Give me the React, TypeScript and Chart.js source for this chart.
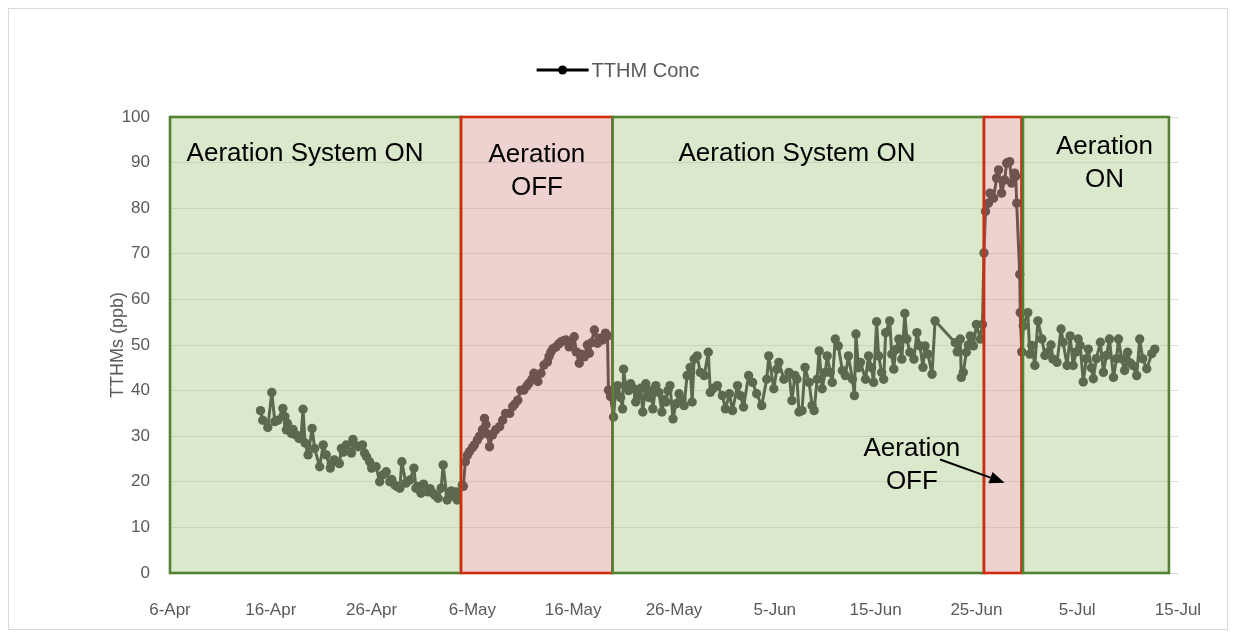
import React, { useEffect, useRef } from "react";
import { Chart, registerables } from "chart.js";

Chart.register(...registerables);

// x values are days after 6-Apr
const xTickLabels = ["6-Apr", "16-Apr", "26-Apr", "6-May", "16-May", "26-May", "5-Jun", "15-Jun", "25-Jun", "5-Jul", "15-Jul"];

const aprilDays = [8.98, 9.2, 9.7, 10.1, 10.4, 10.7, 11.2, 11.4, 11.55, 11.65, 12.05, 12.2, 12.5, 12.8, 13.0, 13.2, 13.4, 13.7, 14.1, 14.35, 14.85, 15.2, 15.5, 15.9, 16.0, 16.3, 16.8, 17.0, 17.2, 17.5, 18.0, 18.15, 18.4, 18.65, 19.1, 19.3, 19.5, 19.8, 20.0, 20.45, 20.8, 21.1, 21.45, 21.8, 22.0, 22.3, 22.5, 22.8, 23.0, 23.4, 23.8, 24.2, 24.4, 24.6, 24.9, 25.15, 25.6, 25.8, 26.1, 26.3, 26.6, 26.9, 27.1, 27.5, 27.7, 27.9, 28.2, 28.4, 28.5];
const aprilVals = [35.6, 33.5, 31.9, 39.6, 33.2, 33.5, 36.1, 34.3, 31.4, 32.8, 30.6, 31.5, 30.3, 29.5, 30.0, 35.9, 28.5, 25.9, 31.7, 27.3, 23.3, 28.1, 25.9, 23.0, 24.0, 24.8, 24.0, 27.3, 26.5, 28.1, 26.3, 29.3, 28.0, 27.7, 28.1, 26.3, 25.5, 24.4, 23.0, 23.3, 20.0, 21.5, 22.2, 20.0, 20.5, 19.3, 19.0, 18.6, 24.4, 19.7, 20.4, 23.0, 18.6, 19.0, 17.5, 19.5, 17.8, 18.5, 17.5, 17.0, 16.4, 18.6, 23.7, 16.0, 17.2, 18.0, 16.8, 17.8, 16.0];

const mayOffDays = [29.0, 29.1, 29.3, 29.5, 29.7, 30.0, 30.2, 30.5, 30.7, 31.0, 31.2, 31.35, 31.5, 31.7, 32.0, 32.3, 32.7, 33.0, 33.3, 33.7, 34.0, 34.2, 34.5, 34.8, 35.1, 35.4, 35.6, 35.9, 36.1, 36.3, 36.5, 36.8, 37.1, 37.45, 37.6, 37.8, 38.0, 38.3, 38.6, 38.8, 39.1, 39.3, 39.6, 39.8, 40.1, 40.3, 40.6, 40.8, 41.1, 41.4, 41.6, 41.8, 42.1, 42.4, 42.6, 42.9, 43.2, 43.4, 43.5, 43.7];
const mayOffVals = [19.3, 19.0, 24.4, 25.8, 26.6, 27.5, 28.1, 29.2, 30.0, 31.4, 33.9, 32.5, 30.5, 27.7, 30.3, 31.4, 32.1, 33.5, 35.0, 35.0, 36.5, 37.0, 37.9, 40.1, 40.1, 41.0, 41.6, 42.5, 43.8, 43.0, 42.0, 43.8, 45.6, 46.3, 47.5, 48.5, 49.2, 49.6, 50.3, 50.7, 51.0, 51.1, 49.6, 50.5, 51.8, 48.5, 46.0, 48.0, 47.4, 50.0, 48.2, 50.5, 53.3, 50.4, 51.5, 51.1, 52.6, 52.0, 40.1, 38.7];

const juneOnDays = [44.0, 44.2, 44.4, 44.7, 44.9, 45.0, 45.2, 45.5, 45.7, 46.0, 46.2, 46.4, 46.7, 46.9, 47.2, 47.5, 47.7, 47.9, 48.2, 48.5, 48.8, 49.0, 49.2, 49.4, 49.6, 49.9, 50.2, 50.5, 50.8, 51.0, 51.3, 51.6, 51.8, 52.0, 52.3, 52.6, 53.0, 53.4, 53.6, 53.9, 54.3, 54.8, 55.1, 55.5, 55.8, 56.3, 56.6, 56.9, 57.4, 57.8, 58.2, 58.7, 59.2, 59.4, 59.9, 60.2, 60.4, 60.9, 61.4, 61.7, 62.0, 62.2, 62.4, 62.7, 63.0, 63.4, 63.7, 63.9, 64.2, 64.4, 64.7, 65.0, 65.2, 65.5, 65.7, 66.0, 66.3, 66.7, 67.0, 67.3, 67.7, 67.9, 68.05, 68.3, 68.5, 69.0, 69.3, 69.6, 69.8, 70.1, 70.3, 70.6, 70.8, 71.0, 71.4, 71.6, 71.8, 72.0, 72.3, 72.6, 72.9, 73.1, 73.4, 73.8, 74.1, 74.4, 74.7, 74.9, 75.2, 75.6, 75.9, 77.9, 78.1, 78.4, 78.5, 78.7, 79.0, 79.2, 79.4, 79.7, 80.0, 80.4, 80.6];
const juneOnVals = [34.2, 40.0, 41.1, 38.5, 36.0, 44.7, 41.1, 40.0, 41.5, 40.4, 37.5, 38.9, 40.5, 35.3, 41.5, 38.5, 40.0, 36.0, 41.1, 39.6, 35.3, 38.0, 37.5, 40.0, 41.1, 33.8, 37.1, 39.3, 38.0, 36.7, 43.3, 45.1, 37.5, 46.9, 47.6, 44.0, 43.3, 48.4, 39.6, 40.5, 41.1, 38.9, 36.0, 39.3, 35.6, 41.1, 38.9, 36.4, 43.3, 41.8, 39.3, 36.7, 42.5, 47.6, 40.4, 44.7, 46.2, 42.5, 44.0, 37.8, 43.3, 42.5, 35.3, 35.6, 45.1, 41.8, 36.7, 35.6, 42.5, 48.7, 40.4, 44.0, 47.6, 44.0, 41.8, 51.3, 49.8, 44.4, 43.3, 47.6, 42.5, 38.9, 52.4, 45.0, 46.2, 42.5, 47.6, 45.0, 41.8, 55.1, 47.6, 44.0, 42.5, 52.7, 55.3, 48.0, 44.7, 49.0, 51.3, 46.9, 56.9, 51.3, 48.4, 46.9, 52.7, 49.8, 45.1, 49.8, 48.0, 43.6, 55.3, 50.5, 48.5, 51.3, 42.9, 44.0, 48.4, 50.0, 52.0, 49.8, 54.5, 51.3, 54.5];

const lateJuneOffDays = [80.75, 80.9, 81.2, 81.35, 81.7, 82.0, 82.2, 82.5, 82.8, 83.0, 83.3, 83.5, 83.8, 83.9, 84.0, 84.3];
const lateJuneOffVals = [70.2, 79.3, 81.1, 83.3, 82.2, 86.6, 88.4, 83.3, 86.2, 89.9, 90.2, 85.5, 87.7, 87.0, 81.1, 65.5];

const julyOnDays = [84.35, 84.5, 84.65, 85.1, 85.3, 85.5, 85.8, 86.1, 86.5, 86.8, 87.1, 87.4, 87.6, 88.0, 88.4, 88.6, 89.0, 89.3, 89.6, 89.9, 90.1, 90.3, 90.6, 90.9, 91.1, 91.4, 91.6, 91.9, 92.3, 92.6, 92.9, 93.2, 93.6, 93.9, 94.1, 94.4, 94.7, 95.0, 95.3, 95.5, 95.9, 96.2, 96.5, 96.9, 97.4, 97.7];
const julyOnVals = [57.1, 48.5, 54.2, 57.1, 48.0, 49.9, 45.5, 55.3, 51.3, 47.7, 48.4, 50.0, 46.9, 46.2, 53.5, 50.6, 45.5, 52.0, 45.5, 48.5, 51.3, 49.9, 41.9, 47.0, 49.1, 45.0, 42.6, 47.0, 50.6, 44.0, 47.7, 51.3, 42.9, 47.0, 51.3, 47.0, 44.4, 48.4, 46.0, 45.5, 43.3, 51.3, 47.0, 44.8, 48.1, 49.1];

// Aeration periods (days after 6-Apr)
const periodStart = [0, 28.87, 43.9, 80.75, 84.62];
const periodEnd = [28.87, 43.9, 80.75, 84.47, 99.1];
const periodAerationOn = [true, false, true, false, true];

// Period notes (centre day, first line value)
const noteLines = [["Aeration System ON"], ["Aeration", "OFF"], ["Aeration System ON"], ["Aeration", "ON"], ["Aeration", "OFF"]];
const noteDay = [13.4, 36.4, 62.2, 92.7, 73.6];
const noteValue = [91.9, 91.6, 91.9, 93.4, 27.3];
const arrowFrom = [76.4, 24.9];
const arrowTo = [82.8, 19.8];

const allDays = [...aprilDays, ...mayOffDays, ...juneOnDays, ...lateJuneOffDays, ...julyOnDays];
const allVals = [...aprilVals, ...mayOffVals, ...juneOnVals, ...lateJuneOffVals, ...julyOnVals];

const FONT = "'Liberation Sans', Arial, sans-serif";

const overlayPlugin = {
  id: "aerationOverlay",
  afterDatasetsDraw(chart: any) {
    const { ctx, scales } = chart;
    const xs = scales.x;
    const ys = scales.y;
    ctx.save();
    const yTop = ys.getPixelForValue(100);
    const yBot = ys.getPixelForValue(0);
    for (let i = 0; i < periodStart.length; i++) {
      const x0 = xs.getPixelForValue(periodStart[i]);
      const x1 = xs.getPixelForValue(periodEnd[i]);
      const on = periodAerationOn[i];
      ctx.fillStyle = on ? "rgba(181,209,153,0.5)" : "rgba(221,165,161,0.5)";
      ctx.fillRect(x0, yTop, x1 - x0, yBot - yTop);
      ctx.lineWidth = 2.6;
      ctx.strokeStyle = on ? "#548235" : "#d42a10";
      ctx.strokeRect(x0, yTop, x1 - x0, yBot - yTop);
    }
    ctx.fillStyle = "#000";
    ctx.font = `26px ${FONT}`;
    ctx.textAlign = "center";
    ctx.textBaseline = "middle";
    for (let i = 0; i < noteLines.length; i++) {
      const cx = xs.getPixelForValue(noteDay[i]);
      const cy = ys.getPixelForValue(noteValue[i]);
      noteLines[i].forEach((t, j) => ctx.fillText(t, cx, cy + j * 33));
    }
    // arrow
    const ax0 = xs.getPixelForValue(arrowFrom[0]);
    const ay0 = ys.getPixelForValue(arrowFrom[1]);
    const ax1 = xs.getPixelForValue(arrowTo[0]);
    const ay1 = ys.getPixelForValue(arrowTo[1]);
    const ang = Math.atan2(ay1 - ay0, ax1 - ax0);
    const headL = 15;
    const headW = 6;
    ctx.strokeStyle = "#000";
    ctx.lineWidth = 2;
    ctx.beginPath();
    ctx.moveTo(ax0, ay0);
    ctx.lineTo(ax1 - Math.cos(ang) * headL, ay1 - Math.sin(ang) * headL);
    ctx.stroke();
    ctx.beginPath();
    ctx.moveTo(ax1, ay1);
    const bx = ax1 - Math.cos(ang) * headL;
    const by = ay1 - Math.sin(ang) * headL;
    ctx.lineTo(bx + Math.sin(ang) * headW, by - Math.cos(ang) * headW);
    ctx.lineTo(bx - Math.sin(ang) * headW, by + Math.cos(ang) * headW);
    ctx.closePath();
    ctx.fill();
    ctx.restore();
  },
  afterDraw(chart: any) {
    const { ctx } = chart;
    ctx.save();
    const label = chart.data.datasets[0].label;
    ctx.font = `20px ${FONT}`;
    const tw = ctx.measureText(label).width;
    const lineW = 52;
    const gap = 3;
    const total = lineW + gap + tw;
    const x0 = chart.width / 2 - total / 2;
    const y = 61;
    ctx.strokeStyle = "#000";
    ctx.lineWidth = 3;
    ctx.beginPath();
    ctx.moveTo(x0, y);
    ctx.lineTo(x0 + lineW, y);
    ctx.stroke();
    ctx.fillStyle = "#000";
    ctx.beginPath();
    ctx.arc(x0 + lineW / 2, y, 4.5, 0, Math.PI * 2);
    ctx.fill();
    ctx.fillStyle = "#595959";
    ctx.textAlign = "left";
    ctx.textBaseline = "middle";
    ctx.fillText(label, x0 + lineW + gap, y + 1);
    ctx.restore();
  },
};

export default function App() {
  const ref = useRef<HTMLCanvasElement | null>(null);
  useEffect(() => {
    if (!ref.current) return;
    const points = allDays.map((d, i) => ({ x: d, y: allVals[i] }));
    const chart = new Chart(ref.current, {
      type: "line",
      data: {
        datasets: [
          {
            label: "TTHM Conc",
            data: points,
            borderColor: "#000",
            backgroundColor: "#000",
            borderWidth: 3,
            borderJoinStyle: "round",
            borderCapStyle: "round",
            pointRadius: 4.7,
            pointBorderWidth: 0,
            pointBackgroundColor: "#000",
            tension: 0,
          },
        ],
      },
      options: {
        animation: false,
        responsive: false,
        events: [],
        layout: { padding: { top: 108, right: 49, bottom: 0, left: 0 } },
        plugins: { legend: { display: false }, tooltip: { enabled: false } },
        scales: {
          x: {
            type: "linear",
            min: 0,
            max: 100,
            afterFit: (s: any) => {
              s.height = 56;
            },
            ticks: {
              stepSize: 10,
              autoSkip: false,
              maxRotation: 0,
              padding: 19,
              color: "#595959",
              font: { family: FONT, size: 17 },
              callback: (v: any) => xTickLabels[Math.round(Number(v) / 10)] ?? "",
            },
            grid: { display: false },
            border: { display: false },
          },
          y: {
            min: 0,
            max: 100,
            afterFit: (s: any) => {
              s.width = 161;
            },
            ticks: {
              stepSize: 10,
              padding: 20,
              color: "#595959",
              font: { family: FONT, size: 17 },
            },
            grid: { color: "#d9d9d9", lineWidth: 1, drawTicks: false },
            border: { display: false },
            title: {
              display: true,
              text: "TTHMs (ppb)",
              color: "#595959",
              font: { family: FONT, size: 18 },
              padding: { top: 98, bottom: 0 },
            },
          },
        },
      },
      plugins: [overlayPlugin],
    });
    return () => chart.destroy();
  }, []);
  return (
    <div style={{ width: 1218, height: 620, border: "1px solid #d9d9d9", background: "#fff" }}>
      <canvas ref={ref} width={1218} height={620} style={{ display: "block", width: 1218, height: 620 }} />
    </div>
  );
}
